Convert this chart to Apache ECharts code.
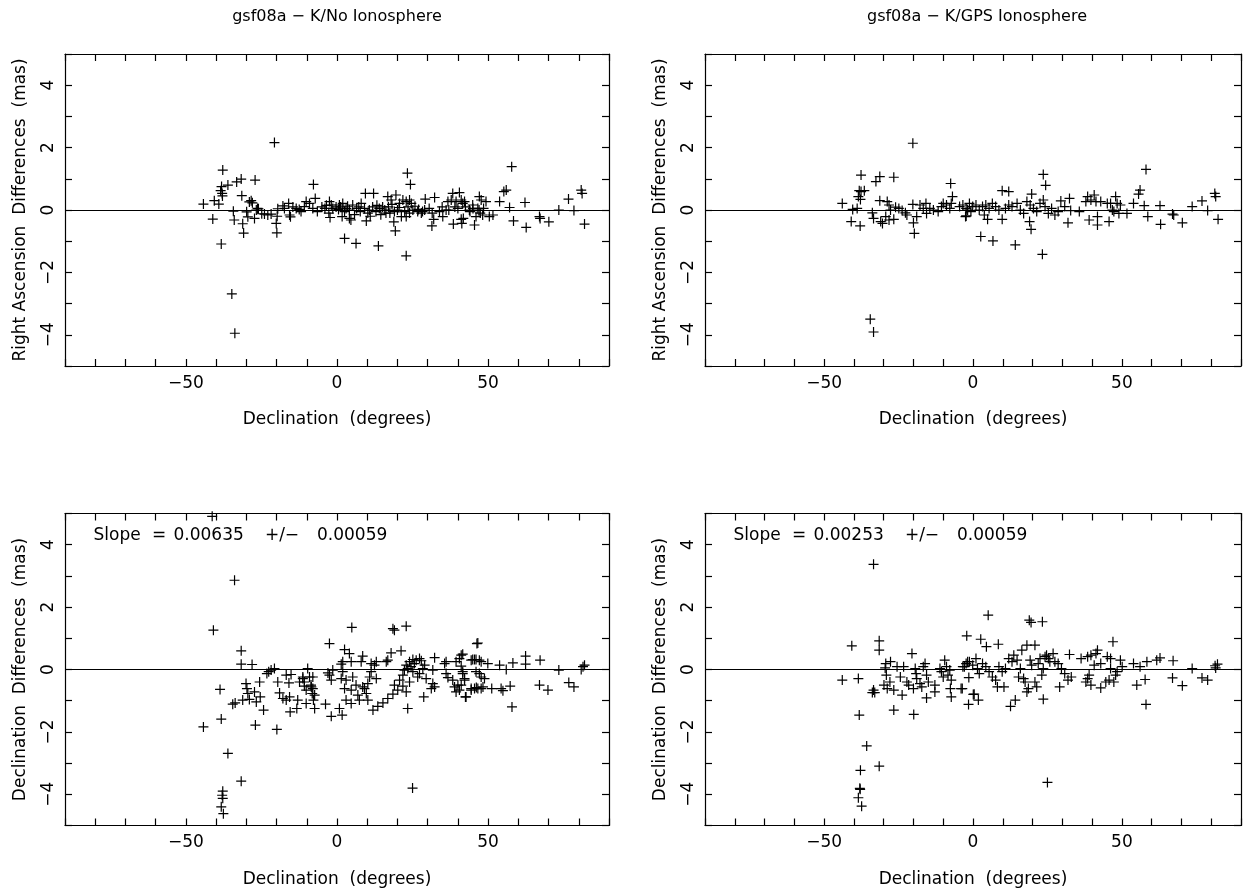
<!DOCTYPE html>
<html><head><meta charset="utf-8">
<script src="https://cdn.jsdelivr.net/npm/echarts@6/dist/echarts.min.js"></script>
<style>html,body{margin:0;padding:0;background:#fff}#c{width:1244px;height:892px}</style>
</head><body><div id="c"></div>
<script>
// [declination (deg), difference (mas)]
const raNoIono = [
[-44.2,0.19],[-41.1,-0.29],[-40.6,0.30],[-39.1,0.19],[-38.3,-1.09],[-37.8,1.28],[-38.5,0.62],[-38.2,0.75],[-38.0,0.53],[-37.9,0.45],[-36.1,0.80],[-34.8,-2.69],[-33.8,-3.95],[-33.2,0.90],[-31.7,0.99],[-31.5,0.46],[-27.1,0.96],[-34.3,-0.04],[-34.0,-0.32],[-31.2,-0.44],[-30.9,-0.74],[-29.9,-0.06],[-29.5,-0.22],[-29.0,0.26],[-28.4,0.30],[-28.0,0.23],[-27.3,-0.27],[-26.7,0.00],[-26.3,0.05],[-26.0,0.04],[-24.9,-0.12],[-24.0,-0.13],[-22.9,-0.16],[-21.8,-0.13],[-20.7,2.16],[-20.1,-0.43],[-19.9,-0.73],[-19.8,-0.20],[-19.6,0.04],[-17.9,0.13],[-17.4,0.05],[-16.0,0.21],[-15.7,-0.16],[-15.4,-0.22],[-14.6,0.10],[-13.5,0.05],[-12.5,0.02],[-11.9,-0.05],[-10.8,0.11],[-10.2,0.27],[-9.1,0.21],[-8.0,0.05],[-7.8,0.82],[-7.2,0.37],[-6.5,-0.05],
[-2.5,0.27],[-1.9,0.16],[-1.4,0.05],[-2.7,-0.10],[-2.3,-0.24],[-0.3,0.10],[0.8,0.16],[1.9,0.21],[3.0,0.05],[4.1,0.00],[5.2,0.16],[1.7,-0.21],[4.1,-0.27],[4.6,-0.32],[2.5,-0.05],[2.5,-0.91],[6.3,-1.07],[9.4,0.53],[12.1,0.53],[9.7,-0.35],[8.0,0.21],[9.1,0.05],[10.7,0.00],[11.8,0.10],[12.9,-0.05],[14.0,0.05],[15.1,0.10],[16.2,-0.10],[13.7,-1.15],[16.8,0.43],[17.9,0.32],[19.5,0.48],[18.8,-0.38],[19.3,-0.67],[20.7,0.21],[21.8,0.32],[22.9,0.27],[24.0,0.32],[24.6,0.21],[23.5,0.10],[22.4,-0.05],[21.3,-0.21],[22.9,-0.21],[24.0,-0.10],[23.3,1.18],[24.3,0.82],[22.9,-1.47],[25.1,0.00],[26.7,-0.05],[27.9,-0.10],[29.0,0.00],[29.2,0.35],[32.3,0.40],[31.5,-0.10],[32.0,-0.30],[31.4,-0.51],[33.9,-0.05],[35.0,-0.21],[36.1,0.00],[36.7,0.27],[37.8,0.32],[38.3,0.53],[39.4,0.27],[40.5,0.56],[41.1,0.32],[41.6,0.21],[40.0,0.05],[38.5,-0.45],[41.3,-0.43],[41.1,-0.30],[41.8,-0.27],[43.8,0.00],[44.9,0.16],[45.5,-0.48],[46.0,-0.21],
[42.2,0.27],[47.1,0.43],[47.7,0.32],[47.4,-0.10],[48.2,-0.16],[46.6,0.05],[49.3,0.27],[50.4,-0.21],[51.6,-0.16],[53.8,0.27],[55.2,0.59],[56.0,0.64],[57.1,0.08],[57.8,1.39],[58.4,-0.35],[62.2,0.24],[62.6,-0.56],[67.0,-0.21],[67.2,-0.27],[70.1,-0.38],[73.4,0.00],[76.6,0.35],[78.4,-0.02],[80.8,0.64],[81.1,0.53],[81.9,-0.45],
[-5.0,0.10],[-4.0,0.05],[-3.5,0.15],[0.5,0.02],[1.2,0.10],[3.5,0.12],[6.5,0.05],[7.2,0.10],[13.2,0.15],[15.8,0.00],[17.0,0.10],[18.2,0.18],[20.0,0.00],[25.8,0.12],[27.0,0.02],[28.3,-0.05],[30.5,0.05],[34.8,0.10],[37.0,0.00],[39.0,0.10],[42.5,0.10],[44.0,-0.05],[45.0,0.05],[47.0,0.00],[48.5,0.05],[5.8,-0.15],[7.7,-0.05],[10.2,-0.10],[11.0,-0.20],[14.5,-0.15],[17.5,-0.10],[19.0,-0.05],[20.5,0.08]
];
const raGpsIono = [
[-43.9,0.21],[-40.9,-0.37],[-40.4,0.02],[-38.9,0.05],[-37.9,-0.51],[-37.6,1.12],[-38.2,0.62],[-37.6,0.59],[-36.5,0.62],[-38.5,0.43],[-37.8,0.34],[-34.5,-3.50],[-33.4,-3.91],[-32.6,0.91],[-31.3,1.07],[-26.6,1.05],[-31.3,0.30],[-28.8,0.27],[-28.2,0.16],[-33.8,-0.09],[-33.4,-0.27],[-31.0,-0.37],[-30.4,-0.43],[-29.3,-0.21],[-28.2,-0.32],[-26.6,-0.30],[-27.7,0.00],[-26.0,0.09],[-24.9,0.05],[-23.8,-0.02],[-22.7,-0.09],[-22.2,-0.16],[-20.2,2.14],[-20.2,0.18],[-20.0,-0.41],[-19.7,-0.75],[-18.9,-0.21],[-17.8,0.16],[-16.7,0.05],[-15.8,0.21],[-15.6,-0.11],[-14.5,0.05],[-13.3,0.00],[-11.7,-0.05],[-10.6,0.11],[-10.0,0.21],[-8.9,0.16],[-7.8,0.05],[-7.3,0.21],[-7.5,0.85],[-6.9,0.43],[-3.4,0.16],[-1.8,0.00],[-2.5,-0.21],[-1.2,0.21],[-0.7,-0.05],
[23.6,1.14],[24.4,0.79],[23.3,-1.42],[2.6,-0.85],[6.7,-0.99],[14.2,-1.12],[9.8,0.62],[12.0,0.59],[19.7,0.51],[19.0,-0.37],[19.5,-0.62],[9.8,-0.30],[4.9,-0.30],[3.8,-0.16],[-2.3,-0.19],[58.1,1.30],[55.6,0.51],[56.1,0.64],[53.9,0.21],[57.5,0.14],[58.7,-0.21],[62.8,0.14],[63.0,-0.46],[67.0,-0.13],[67.4,-0.16],[70.3,-0.41],[73.6,0.11],[76.9,0.29],[78.8,-0.02],[81.2,0.53],[81.5,0.43],[82.3,-0.30],[32.4,0.37],[32.8,-0.02],[31.9,-0.41],[29.5,0.29],[35.7,-0.05],[37.9,0.27],[38.5,0.43],[39.6,0.32],[40.7,0.48],[41.3,0.27],[39.0,-0.32],[41.8,-0.21],[41.8,-0.48],[45.7,-0.37],[42.9,0.27],[45.1,0.21],[46.2,0.21],[46.8,0.00],[47.3,-0.05],[47.9,0.43],[48.4,0.21],[49.0,-0.11],[49.5,0.16],[51.7,-0.11],
[-4.5,0.11],[-2.3,0.05],[-0.1,0.11],[1.0,0.16],[2.1,0.00],[3.2,0.11],[4.3,0.16],[5.4,0.05],[6.5,0.21],[7.6,0.11],[8.7,0.00],[10.9,0.05],[12.0,0.16],[13.1,0.11],[14.8,0.21],[15.9,0.00],[17.0,-0.11],[18.1,0.27],[19.2,0.16],[20.3,0.05],[21.4,-0.05],[22.5,0.21],[23.6,0.32],[24.2,0.11],[25.3,-0.11],[26.4,0.05],[27.5,-0.16],[28.6,-0.05],[30.8,0.11]
];
const decNoIono = [
[-41.3,4.91],[-33.9,2.86],[-40.9,1.26],[-31.7,0.60],[-31.7,0.17],[-28.1,0.16],[-38.7,-0.64],[-44.2,-1.84],[-38.3,-1.59],[-36.1,-2.69],[-31.7,-3.58],[-37.8,-3.90],[-38.0,-4.03],[-37.8,-4.13],[-38.3,-4.40],[-37.6,-4.62],
[-34.5,-1.11],[-33.7,-1.07],[-30.1,-0.45],[-29.8,-0.61],[-29.5,-0.77],[-31.2,-0.98],[-29.0,-0.96],[-27.3,-0.72],[-26.7,-1.04],[-25.6,-0.40],[-25.4,-0.88],[-24.3,-1.30],[-27.0,-1.78],[-22.6,-0.07],[-21.8,-0.02],[-20.7,0.03],[-23.2,-0.13],[-19.9,-1.92],[-19.6,-0.40],[-19.0,-0.75],[-17.9,-0.93],[-16.8,-0.18],[-15.9,-0.43],[-15.7,-0.88],[-15.5,-1.36],[-16.8,-0.98],[-15.2,-0.16],[-13.3,-1.25],[-13.0,-0.98],[-11.3,-0.29],[-10.8,-0.40],[-10.2,-0.66],[-9.7,0.03],[-9.1,-0.24],[-8.6,-0.50],[-8.2,-0.77],[-7.4,-1.25],[-7.8,-0.98],
[4.9,1.35],[18.5,1.31],[19.0,1.26],[22.9,1.39],[-2.5,0.83],[46.3,0.83],[2.5,0.64],[4.1,0.51],[8.5,0.43],[8.0,0.25],[17.9,0.53],[21.2,0.60],[16.8,0.30],[16.3,0.25],[27.3,0.35],[32.3,0.38],[36.1,0.25],[40.5,0.35],[41.6,0.49],[1.9,0.25],[1.4,0.17],[4.7,0.25],[11.3,0.19],[12.4,0.14],[13.0,0.25],[22.9,0.14],[24.0,0.25],[25.1,0.32],[25.6,0.19],[24.5,0.09],[23.4,0.03],[22.3,-0.02],[26.2,0.30],[27.9,0.28],[29.0,0.14],[31.7,-0.02],[35.6,0.19],[39.4,0.25],[41.1,0.11],[44.4,0.30],[45.5,0.32],
[-11.3,-0.24],[-8.0,-0.24],[-12.4,-0.40],[-10.8,-0.53],[-8.5,-0.56],[-8.0,-0.61],[-7.4,-0.82],[-10.2,-1.09],[-3.8,-1.11],[-1.9,-1.50],[1.7,-1.46],[0.8,-1.25],[3.0,-0.98],[4.7,-1.09],[2.5,-0.61],[4.7,-0.66],[6.9,-0.82],[8.5,-0.56],[9.7,-0.77],[10.2,-0.98],[7.4,-0.98],[-1.4,-0.02],[1.9,-0.07],[-2.5,-0.18],[-3.0,-0.11],[-1.9,-0.34],[1.4,-0.29],[3.0,-0.34],[5.2,-0.24],[6.3,-0.50],[9.1,-0.61],[10.2,-0.45],[10.8,-0.24],[11.3,-0.07],[13.0,-0.29],[11.9,-1.30],[13.5,-1.18],[15.2,-1.07],[16.8,-0.93],[18.5,-0.79],[20.1,-0.66],[21.8,-0.53],[23.4,-1.25],[19.0,-0.50],[20.7,-0.34],[21.8,-0.18],[24.0,-0.40],[22.9,-0.72],[25.1,-0.07],[26.7,-0.24],[27.3,-0.13],[28.4,0.03],[29.5,-0.29],[31.7,-0.45],[32.3,-0.56],[31.2,-0.61],[28.7,-0.88],[36.7,-0.26],[38.3,-0.34],[38.9,-0.56],[39.4,-0.72],[40.0,-0.50],[41.6,-0.07],[42.2,-0.34],[42.5,-0.88],[44.4,-0.61],[46.1,-0.58],[36.1,-0.13],[25.0,-3.80],
[46.6,0.85],[41.1,0.46],[44.9,0.32],[46.0,0.32],[47.1,0.30],[47.7,0.25],[49.9,0.19],[53.8,0.14],[56.0,0.00],[58.2,0.21],[62.4,0.43],[62.4,0.17],[67.2,0.30],[73.4,-0.02],[80.8,0.00],[81.4,0.09],[81.9,0.14],[41.6,-0.13],[42.2,-0.29],[46.0,-0.07],[47.1,-0.13],[47.7,-0.24],[42.7,-0.88],[44.4,-0.66],[45.5,-0.61],[46.6,-0.61],[47.7,-0.61],[48.8,-0.29],[48.3,-0.56],[51.2,-0.61],[54.3,-0.61],[54.9,-0.68],[57.3,-0.53],[57.9,-1.20],[67.0,-0.50],[69.8,-0.66],[76.7,-0.42],[78.4,-0.56],[41.1,-0.50],[40.5,-0.66]
];
const decGpsIono = [
[-33.4,3.37],[-40.7,0.76],[-31.5,0.92],[-31.5,0.62],[-43.9,-0.34],[-38.5,-0.29],[-38.2,-1.46],[-35.7,-2.45],[-31.5,-3.10],[-37.8,-3.23],[-38.0,-3.81],[-37.9,-3.84],[-38.5,-4.11],[-37.4,-4.38],[-33.4,-0.66],[-33.0,-0.74],[-33.8,-0.74],
[-29.3,0.19],[-29.5,0.05],[-29.1,-0.18],[-27.7,0.25],[-29.9,-0.50],[-28.8,-0.61],[-27.9,-0.40],[-26.6,-0.66],[-25.5,0.09],[-24.4,-0.24],[-23.8,-0.82],[-23.3,0.09],[-22.2,-0.40],[-21.6,-0.50],[-20.5,0.51],[-20.0,-0.61],[-19.4,0.03],[-19.1,-0.13],[-18.9,-0.29],[-17.8,-0.45],[-17.2,-0.56],[-16.7,0.09],[-16.1,0.19],[-15.6,-0.18],[-15.0,-0.40],[-15.6,-0.91],[-12.8,-0.72],[-12.8,-0.50],[-11.1,0.03],[-10.6,-0.07],[-10.0,-0.24],[-9.5,0.30],[-8.9,0.09],[-8.4,-0.18],[-7.8,-0.02],[-7.3,-0.34],[-7.3,-0.88],[-7.6,-0.61],[-3.6,-0.61],[-2.9,0.09],[-1.8,0.25],[-1.4,-0.26],[0.1,-0.80],[-26.6,-1.30],[-19.9,-1.44],
[5.1,1.74],[18.9,1.58],[19.5,1.51],[23.3,1.53],[-2.1,1.08],[2.6,0.97],[4.5,0.73],[8.5,0.81],[18.1,0.78],[20.8,0.78],[47.0,0.89],[25.0,-3.62],[-1.5,-1.12],[1.8,-0.98],[0.4,-0.79],[-4.0,-0.61],[12.6,-1.18],[14.2,-0.98],[23.6,-0.95],[58.1,-1.12],[67.0,-0.27],[70.3,-0.52],[76.9,-0.27],[78.8,-0.34],[73.6,0.03],[62.8,0.37],[67.2,0.28],[58.4,0.25],[61.7,0.30],[53.9,0.19],[56.1,0.09],[55.0,-0.50],[57.8,-0.32],[81.3,0.12],[82.1,0.17],[81.5,0.05],
[32.4,0.48],[36.3,0.35],[38.5,0.41],[39.6,0.46],[40.7,0.14],[41.8,0.62],[41.3,0.51],[42.9,0.19],[39.0,-0.18],[38.5,-0.29],[37.9,-0.40],[39.6,-0.50],[42.9,-0.59],[44.6,-0.40],[45.7,-0.34],[47.3,-0.40],[46.2,0.03],[47.9,-0.18],[48.4,-0.07],[49.5,0.30],[50.1,0.09],[46.2,0.35],[45.1,0.41],[29.7,0.03],[30.8,-0.13],[29.1,-0.56],[31.9,-0.34],[33.0,-0.24],
[-3.4,0.09],[-2.3,0.19],[-1.2,0.25],[-0.1,0.14],[1.0,0.35],[1.5,0.03],[2.1,-0.13],[3.2,0.19],[4.3,0.09],[5.4,-0.07],[6.5,-0.24],[7.6,-0.34],[8.2,-0.56],[8.7,0.09],[9.8,-0.07],[10.9,0.03],[10.4,-0.56],[12.0,0.35],[13.1,0.25],[13.7,0.46],[14.8,0.30],[15.3,-0.24],[15.9,0.03],[16.4,0.62],[17.0,-0.29],[17.5,-0.40],[18.1,-0.72],[18.6,-0.61],[19.2,0.30],[19.7,0.14],[20.8,-0.40],[21.4,-0.56],[21.9,0.19],[22.5,0.35],[23.1,-0.18],[23.6,0.03],[24.2,0.41],[24.7,0.46],[25.3,0.35],[25.8,0.25],[26.9,0.51],[27.5,0.25],[28.6,0.19]
];
const titles = ['gsf08a \u2212 K/No Ionosphere', 'gsf08a \u2212 K/GPS Ionosphere'];
const yNames = ['Right Ascension  Differences  (mas)', 'Declination  Differences  (mas)'];
const xName = 'Declination  (degrees)';
const slopeValues = ['0.00635', '0.00253'];
const slopeErrors = ['0.00059', '0.00059'];
const xLabelTicks = [-50, 0, 50];
const yLabelTicks = [-4, -2, 0, 2, 4];

const F = 'DejaVu Sans';
const fmt = v => (v < 0 ? '\u2212' : '') + Math.abs(v);
const grids = [
  {left: 65, top: 54, width: 544, height: 312},
  {left: 705, top: 54, width: 544, height: 312},
  {left: 65, top: 513.5, width: 544, height: 312},
  {left: 705, top: 513.5, width: 544, height: 312}
];
const panels = [raNoIono, raGpsIono, decNoIono, decGpsIono];
const xAxes = [], yAxes = [], series = [];
panels.forEach((data, i) => {
  const common = {
    gridIndex: i, type: 'value',
    axisLine: {show: true, onZero: false, lineStyle: {color: '#000', width: 1.2}},
    axisTick: {show: true, inside: true, length: 7, lineStyle: {color: '#000', width: 1.2}},
    splitLine: {show: false}
  };
  xAxes.push(Object.assign({}, common, {
    position: 'bottom', min: -90, max: 90, interval: 10,
    axisLabel: {show: true, margin: 9, color: '#000', fontFamily: F, fontSize: 17,
      formatter: v => xLabelTicks.includes(v) ? fmt(v) : ''},
    name: xName, nameLocation: 'middle', nameGap: 54,
    nameTextStyle: {color: '#000', fontFamily: F, fontSize: 17, verticalAlign: 'middle'}
  }));
  xAxes.push(Object.assign({}, common, {
    position: 'top', min: -90, max: 90, interval: 10, axisLabel: {show: false}
  }));
  yAxes.push(Object.assign({}, common, {
    position: 'left', min: -5, max: 5, interval: 1,
    axisLabel: {show: true, rotate: 90, margin: 8, color: '#000', fontFamily: F, fontSize: 17,
      formatter: v => yLabelTicks.includes(v) ? fmt(v) : ''},
    name: yNames[i >> 1], nameLocation: 'middle', nameGap: 44, nameRotate: 90,
    nameTextStyle: {color: '#000', fontFamily: F, fontSize: 17, verticalAlign: 'middle'}
  }));
  yAxes.push(Object.assign({}, common, {
    position: 'right', min: -5, max: 5, interval: 1, axisLabel: {show: false}
  }));
  series.push({
    type: 'scatter', xAxisIndex: 2 * i, yAxisIndex: 2 * i, data: data,
    symbol: 'path://M0,5L10,5M5,0L5,10', symbolSize: 10,
    itemStyle: {color: 'rgba(0,0,0,0)', borderColor: '#000', borderWidth: 1.2, opacity: 1},
    emphasis: {disabled: true},
    markLine: {
      silent: true, symbol: ['none', 'none'], label: {show: false},
      lineStyle: {color: '#000', width: 1.2, type: 'solid'},
      emphasis: {disabled: true},
      data: [{yAxis: 0}]
    }
  });
});
const graphic = [];
titles.forEach((t, j) => {
  graphic.push({type: 'text', x: grids[j].left + grids[j].width / 2, y: 17,
    style: {text: t, fill: '#000', fontFamily: F, fontSize: 16, align: 'center', verticalAlign: 'middle'}});
});
slopeValues.forEach((v, j) => {
  const L = grids[2 + j].left;
  const parts = [['Slope', 28.5, 'left'], ['=', 87, 'left'], [v, 108.5, 'left'], ['+/\u2212', 217, 'center'], [slopeErrors[j], 252, 'left']];
  parts.forEach(p => {
    graphic.push({type: 'text', x: L + p[1], y: 536,
      style: {text: p[0], fill: '#000', fontFamily: F, fontSize: 17, align: p[2], verticalAlign: 'middle'}});
  });
});
const chart = echarts.init(document.getElementById('c'), null, {renderer: 'canvas'});
chart.setOption({
  animation: false,
  backgroundColor: '#fff',
  grid: grids,
  xAxis: xAxes,
  yAxis: yAxes,
  series: series,
  graphic: graphic
});
</script>
</body></html>
